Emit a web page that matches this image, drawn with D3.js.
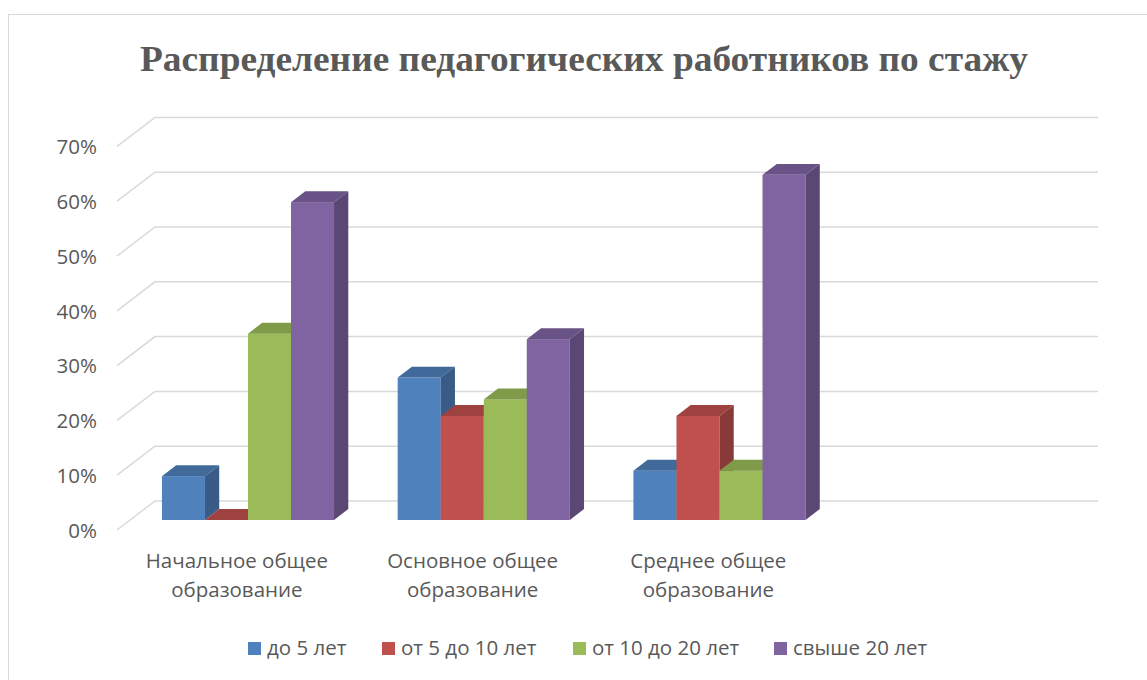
<!DOCTYPE html>
<meta charset="utf-8">
<style>
body { margin: 0; background: #fff; }
text { fill: #595959; }
.lbl { font-family: "Open Sans", sans-serif; font-size: 20.5px; }
.title { font-family: "Liberation Serif", serif; font-weight: bold; font-size: 36px; }
.grid { fill: none; stroke: #d9d9d9; stroke-width: 1.5; }
</style>
<body>
<script src="https://cdn.jsdelivr.net/npm/d3@7"></script>
<script>
// categories (the 4th slot is empty in the source chart)
var categories = ["Начальное общее образование", "Основное общее образование", "Среднее общее образование", ""];
var seriesNames = ["до 5 лет", "от 5 до 10 лет", "от 10 до 20 лет", "свыше 20 лет"];
var colors = ["#4f81bd", "#c0504d", "#9bbb59", "#8064a2"];

// values per series, one per category
var upTo5 = [0.08, 0.26, 0.09];
var from5to10 = [0.00, 0.19, 0.19];
var from10to20 = [0.34, 0.22, 0.09];
var over20 = [0.58, 0.33, 0.63];
var series = [upTo5, from5to10, from10to20, over20];

var yTicks = [0, 0.1, 0.2, 0.3, 0.4, 0.5, 0.6, 0.7];
var title = "Распределение педагогических работников по стажу";

var W = 1147, H = 680;
// front plane of the 3d box and the depth vector
var x0 = 117, plotW = 943, depthX = 38, depthY = -29;
var barDepth0 = 0.345, barDepth1 = 0.72;

var svg = d3.select("body").append("svg")
    .attr("width", W)
    .attr("height", H);

// chart frame
svg.append("rect")
    .attr("x", 8.5).attr("y", 14.5)
    .attr("width", W + 10).attr("height", H + 10)
    .attr("fill", "none").attr("stroke", "#d9d9d9");

svg.append("text")
    .attr("class", "title")
    .attr("x", 584).attr("y", 71)
    .attr("text-anchor", "middle")
    .attr("textLength", 888)
    .attr("lengthAdjust", "spacingAndGlyphs")
    .text(title);

var x = d3.scaleBand()
    .domain(d3.range(categories.length))
    .range([x0, x0 + plotW])
    .paddingInner(0.27)
    .paddingOuter(0.135);

var xs = d3.scaleBand()
    .domain(d3.range(series.length))
    .range([0, x.bandwidth()]);

// y on the front plane
var y = d3.scaleLinear()
    .domain([0, 0.7])
    .range([530, 146.4]);

// gridlines: front-left -> back-left -> back-right
svg.append("g").selectAll("polyline")
    .data(yTicks)
  .enter().append("polyline")
    .attr("class", "grid")
    .attr("points", function(d) {
      return [[x0, y(d)], [x0 + depthX, y(d) + depthY], [x0 + plotW + depthX, y(d) + depthY]].join(" ");
    });

// y axis labels
var yAxis = svg.append("g")
    .attr("class", "lbl")
    .attr("transform", "translate(97,0)")
    .call(d3.axisLeft(y).tickValues(yTicks).tickSize(0).tickPadding(0).tickFormat(d3.format(".0%")));
yAxis.select(".domain").remove();
yAxis.selectAll("text").attr("class", "lbl").attr("font-family", null).attr("font-size", null)
    .attr("fill", null).attr("dy", "0.36em");

// bars
var fx = barDepth0 * depthX, fy = barDepth0 * depthY;
var dx = (barDepth1 - barDepth0) * depthX, dy = (barDepth1 - barDepth0) * depthY;

var bars = [];
categories.forEach(function(c, ci) {
  series.forEach(function(s, si) {
    if (s[ci] === undefined) return;
    bars.push({ci: ci, si: si, v: s[ci]});
  });
});

var g = svg.append("g");
bars.forEach(function(b) {
  var bx = x(b.ci) + xs(b.si) + fx;
  var bw = xs.bandwidth();
  var yb = y(0) + fy, yt = y(b.v) + fy;
  var col = d3.color(colors[b.si]);
  var bar = g.append("g");
  bar.append("rect")
      .attr("x", bx).attr("y", yt)
      .attr("width", bw).attr("height", yb - yt)
      .attr("fill", col);
  bar.append("polygon")
      .attr("points", [[bx, yt], [bx + dx, yt + dy], [bx + bw + dx, yt + dy], [bx + bw, yt]].join(" "))
      .attr("fill", col.darker(0.55));
  bar.append("polygon")
      .attr("points", [[bx + bw, yt], [bx + bw + dx, yt + dy], [bx + bw + dx, yb + dy], [bx + bw, yb]].join(" "))
      .attr("fill", col.darker(0.95));
});

// category labels, two lines
var cat = svg.append("g").selectAll("text")
    .data(categories.filter(function(c) { return c; }))
  .enter().append("text")
    .attr("class", "lbl")
    .attr("text-anchor", "middle")
    .attr("x", function(d, i) { return x(i) + x.bandwidth() / 2 + 2; })
    .attr("y", 568);
cat.each(function(d) {
  var k = d.lastIndexOf(" ");
  var t = d3.select(this);
  t.append("tspan").attr("x", t.attr("x")).text(d.slice(0, k));
  t.append("tspan").attr("x", t.attr("x")).attr("dy", 29).text(d.slice(k + 1));
});

// legend
var legendX = [248, 382, 573, 774];
var lg = svg.append("g").selectAll("g")
    .data(seriesNames)
  .enter().append("g")
    .attr("transform", function(d, i) { return "translate(" + legendX[i] + ",642)"; });
lg.append("rect")
    .attr("width", 13).attr("height", 13)
    .attr("fill", function(d, i) { return colors[i]; });
lg.append("text")
    .attr("class", "lbl")
    .attr("x", 19).attr("y", 13)
    .text(function(d) { return d; });
</script>
</body>
